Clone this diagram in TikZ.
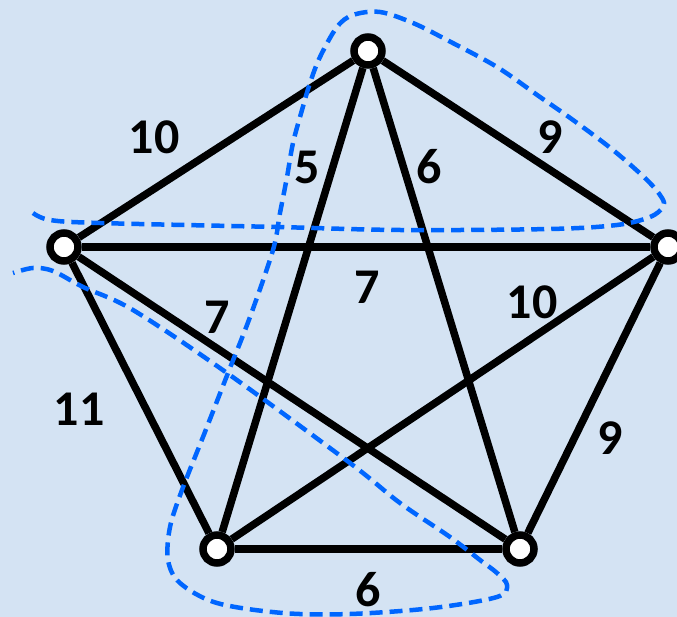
\documentclass[tikz,border=0pt]{standalone}
\usepackage{fontspec}
\setmainfont{Carlito}
\definecolor{bgblue}{RGB}{212,227,243}
\definecolor{cutblue}{RGB}{0,102,255}
\begin{document}
\begin{tikzpicture}[x=1pt,y=-1pt,
  vtx/.style={circle,draw=black,fill=white,line width=7.5pt,minimum size=28pt,inner sep=0pt},
  edge/.style={line width=7.5pt,black},
  wlabel/.style={font=\fontsize{50}{50}\selectfont\bfseries,inner sep=0pt},
  cut/.style={cutblue,line width=4.5pt,dash pattern=on 13pt off 7pt}]
\fill[bgblue] (0,0) rectangle (677,617);
\useasboundingbox (0,0) rectangle (677,617);
\clip (0,0) rectangle (677,617);

\node[vtx] (T) at (368,51) {};
\node[vtx] (L) at (64,247) {};
\node[vtx] (R) at (668,247) {};
\node[vtx] (BL) at (217,549) {};
\node[vtx] (BR) at (520,549) {};

\draw[edge] (T) -- (L);
\draw[edge] (T) -- (R);
\draw[edge] (T) -- (BL);
\draw[edge] (T) -- (BR);
\draw[edge] (L) -- (R);
\draw[edge] (L) -- (BL);
\draw[edge] (L) -- (BR);
\draw[edge] (R) -- (BL);
\draw[edge] (R) -- (BR);
\draw[edge] (BL) -- (BR);

\node[wlabel] (w1) at (154,137) {10};
\node[wlabel] (w2) at (307,167) {5};
\node[wlabel] (w3) at (429,167) {6};
\node[wlabel] (w4) at (550,137) {9};
\node[wlabel] (w5) at (367,287) {7};
\node[wlabel] (w6) at (217,317) {7};
\node[wlabel] (w7) at (532,302) {10};
\node[wlabel] (w8) at (79,409) {11};
\node[wlabel] (w9) at (610,438) {9};
\node[wlabel] (w10) at (368,590) {6};

\draw[cut] plot[smooth, tension=0.55] coordinates {
  (33,213) (50,220) (100,223) (277,227) (400,230) (550,229) (617,225)
  (650,217) (663,207) (662,198) (647,180) (613,150) (573,120) (540,97)
  (497,67) (447,40) (413,23) (380,12) (353,15) (337,27) (320,57) (310,83)
  (302,110) (293,143) (287,177) (280,213) (273,250) (250,317) (228,373)
  (203,437) (182,490) (170,527) (168,560) (180,583) (217,603) (283,613)
  (350,614) (433,608) (497,597) (507,585) (497,573) (480,560) (450,537)
  (400,503) (350,463) (227,373) (133,310) (83,287) (53,271) (33,268) (13,273)};
\end{tikzpicture}
\end{document}
